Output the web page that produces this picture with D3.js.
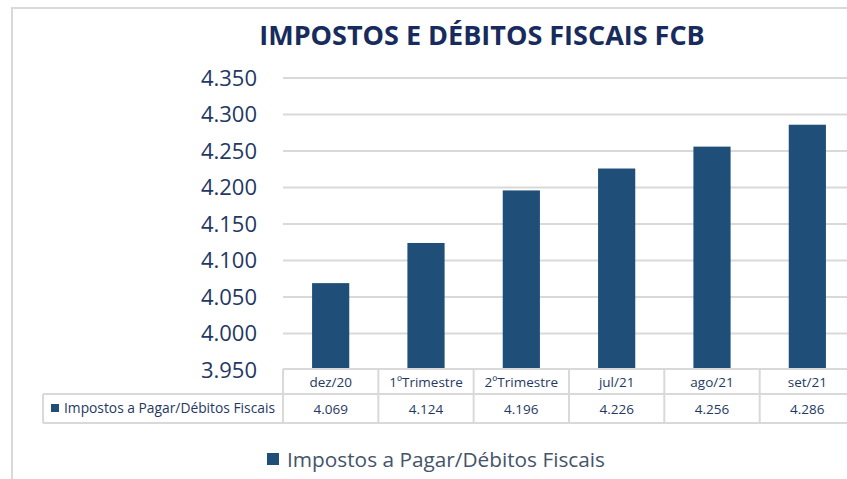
<!DOCTYPE html>
<html>
<head>
<meta charset="utf-8">
<script src="https://cdn.jsdelivr.net/npm/d3@7"></script>
<style>
  body { margin: 0; background: #fff; }
  svg { display: block; font-family: "Open Sans", sans-serif; }
</style>
</head>
<body>
<div id="chart"></div>
<script>
// data
const categories = ["dez/20", "1ºTrimestre", "2ºTrimestre", "jul/21", "ago/21", "set/21"];
const values = [4069, 4124, 4196, 4226, 4256, 4286];
const yTicks = [3950, 4000, 4050, 4100, 4150, 4200, 4250, 4300, 4350];
const seriesName = "Impostos a Pagar/Débitos Fiscais";
const title = "IMPOSTOS E DÉBITOS FISCAIS FCB";

const width = 847, height = 479;
const barColor = "#1f4e79";
const navy = "#1f3864";
const grid = "#d9d9d9";

const ptBR = d3.formatLocale({decimal: ",", thousands: ".", grouping: [3], currency: ["R$", ""]});
const fmt = ptBR.format(",.0f");

const svg = d3.select("#chart")
  .append("svg")
    .attr("width", width)
    .attr("height", height);

// outer frame (runs off the right and bottom edges)
svg.append("rect")
  .attr("x", 12).attr("y", 8)
  .attr("width", width + 20).attr("height", height + 20)
  .attr("fill", "none")
  .attr("stroke", grid)
  .attr("stroke-width", 2);

// title
svg.append("text")
  .attr("x", 482).attr("y", 45)
  .attr("text-anchor", "middle")
  .style("font-size", "27px")
  .style("font-weight", "bold")
  .style("fill", "#172c5c")
  .text(title);

// scales
const x = d3.scaleBand()
  .domain(categories)
  .range([283, 855])
  .paddingInner(0.61)
  .paddingOuter(0.305);

const cell = d3.scaleBand()
  .domain(categories)
  .range([283, 855]);

const y = d3.scaleLinear()
  .domain([3950, 4350])
  .range([370, 78]);

// gridlines
svg.append("g")
  .selectAll("line")
  .data(yTicks.slice(1))
  .join("line")
    .attr("x1", 283).attr("x2", width)
    .attr("y1", d => y(d)).attr("y2", d => y(d))
    .attr("stroke", grid)
    .attr("stroke-width", 2);

// y axis labels
const yAxis = svg.append("g")
  .attr("transform", "translate(257,0)")
  .call(d3.axisLeft(y).tickValues(yTicks).tickFormat(fmt).tickSize(0).tickPadding(0));
yAxis.select(".domain").remove();
yAxis.selectAll("text")
  .style("font-size", "22px")
  .style("font-family", "Open Sans, sans-serif")
  .style("fill", navy);

// bars
svg.append("g")
  .selectAll("rect")
  .data(values)
  .join("rect")
    .attr("x", (d, i) => x(categories[i]))
    .attr("y", d => y(d))
    .attr("width", x.bandwidth())
    .attr("height", d => y(3950) - y(d))
    .attr("fill", barColor);

// data table
const rowTop = 369, rowMid = 394, rowBot = 423;
const tbl = svg.append("g")
  .attr("stroke", grid)
  .attr("stroke-width", 2);

tbl.append("line").attr("x1", 283).attr("x2", width).attr("y1", rowTop).attr("y2", rowTop);
tbl.append("line").attr("x1", 43).attr("x2", width).attr("y1", rowMid).attr("y2", rowMid);
tbl.append("line").attr("x1", 43).attr("x2", width).attr("y1", rowBot).attr("y2", rowBot);
tbl.append("line").attr("x1", 43).attr("x2", 43).attr("y1", rowMid).attr("y2", rowBot);
tbl.selectAll(".vline")
  .data(categories)
  .join("line")
    .attr("class", "vline")
    .attr("x1", d => cell(d)).attr("x2", d => cell(d))
    .attr("y1", rowTop).attr("y2", rowBot);

// category labels
svg.append("g")
  .selectAll("text")
  .data(categories)
  .join("text")
    .attr("x", d => cell(d) + cell.bandwidth() / 2)
    .attr("y", (rowTop + rowMid) / 2 + 5)
    .attr("text-anchor", "middle")
    .style("font-size", "13.5px")
    .style("fill", navy)
    .text(d => d);

// value labels
svg.append("g")
  .selectAll("text")
  .data(values)
  .join("text")
    .attr("x", (d, i) => cell(categories[i]) + cell.bandwidth() / 2)
    .attr("y", (rowMid + rowBot) / 2 + 5)
    .attr("text-anchor", "middle")
    .style("font-size", "13.5px")
    .style("fill", navy)
    .text(d => fmt(d));

// row label with key
svg.append("rect")
  .attr("x", 51).attr("y", 404)
  .attr("width", 8).attr("height", 8)
  .attr("fill", barColor);
svg.append("text")
  .attr("x", 64).attr("y", 413)
  .style("font-size", "13.8px")
  .style("fill", navy)
  .text(seriesName);

// legend
svg.append("rect")
  .attr("x", 267).attr("y", 453)
  .attr("width", 12).attr("height", 12)
  .attr("fill", barColor);
svg.append("text")
  .attr("x", 287).attr("y", 467)
  .style("font-size", "20.8px")
  .style("fill", "#44546a")
  .text(seriesName);
</script>
</body>
</html>
